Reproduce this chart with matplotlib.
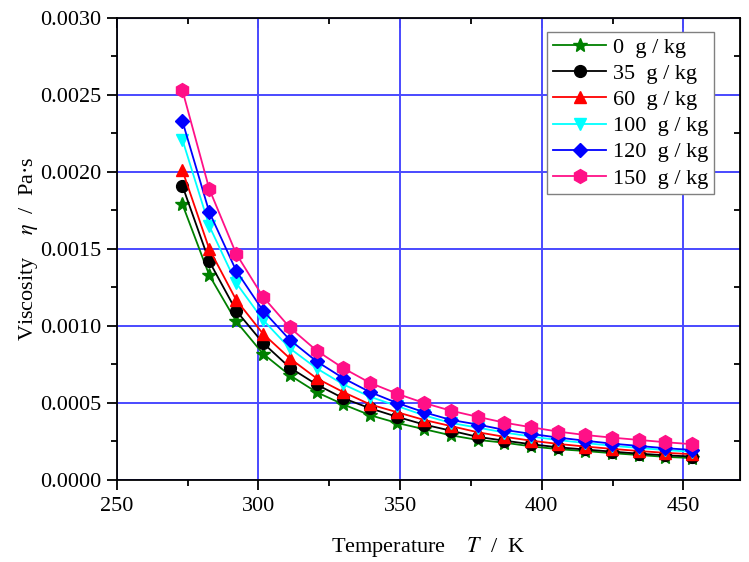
import numpy as np
import matplotlib
matplotlib.use("Agg")
import matplotlib.pyplot as plt
from matplotlib.ticker import MultipleLocator

plt.rcParams["font.family"] = ["Liberation Serif", "DejaVu Serif"]
plt.rcParams["mathtext.fontset"] = "stix"

# temperature points (K)
temps = [273.15, 282.62, 292.10, 301.57, 311.05, 320.52, 330.0, 339.47, 348.94, 358.42,
         367.89, 377.36, 386.84, 396.31, 405.78, 415.26, 424.73, 434.21, 443.68, 453.15]

labels = ["0  g / kg", "35  g / kg", "60  g / kg", "100  g / kg", "120  g / kg", "150  g / kg"]

visc_0 = [0.00179, 0.00133, 0.00103, 0.00082, 0.00068, 0.00057, 0.00049, 0.00042, 0.00037, 0.00033,
          0.00029, 0.00026, 0.000242, 0.000218, 0.000200, 0.000188, 0.000174, 0.000162, 0.000150, 0.000142]
visc_35 = [0.00191, 0.00142, 0.00110, 0.00089, 0.00073, 0.00062, 0.00053, 0.000465, 0.00041, 0.00036,
           0.00032, 0.00028, 0.000255, 0.000232, 0.000212, 0.000198, 0.000184, 0.000171, 0.000160, 0.000152]
visc_60 = [0.00201, 0.00150, 0.00117, 0.00095, 0.00079, 0.00066, 0.00057, 0.00049, 0.00044, 0.00039,
           0.00035, 0.00031, 0.000280, 0.000255, 0.000234, 0.000217, 0.000202, 0.000188, 0.000176, 0.000167]
visc_100 = [0.00221, 0.00165, 0.00128, 0.00104, 0.000855, 0.000725, 0.00062, 0.00054, 0.00048, 0.00042,
            0.00037, 0.00034, 0.000308, 0.000282, 0.000259, 0.000240, 0.000222, 0.000208, 0.000194, 0.000183]
visc_120 = [0.00233, 0.00174, 0.00136, 0.00110, 0.00091, 0.00077, 0.00066, 0.00057, 0.00050, 0.00044,
            0.00039, 0.00036, 0.000325, 0.000299, 0.000275, 0.000255, 0.000236, 0.000221, 0.000206, 0.000195]
visc_150 = [0.00253, 0.00189, 0.00147, 0.00119, 0.00099, 0.00084, 0.000725, 0.00063, 0.00056, 0.00050,
            0.00045, 0.00041, 0.000372, 0.000342, 0.000314, 0.000292, 0.000275, 0.000260, 0.000245, 0.000232]

series = [visc_0, visc_35, visc_60, visc_100, visc_120, visc_150]
colors = ["#008000", "#000000", "#ff0000", "#00ffff", "#0000ff", "#ff1087"]
markers = ["*", "o", "^", "v", "D", "h"]
msizes = [10, 8.5, 9, 9, 7.5, 10]

fig = plt.figure(figsize=(7.49, 5.62), dpi=100)
ax = fig.add_axes([0.156, 0.146, 0.832, 0.822])

for y, c, m, ms, lab in zip(series, colors, markers, msizes, labels):
    ax.plot(temps, y, color=c, marker=m, markersize=ms, lw=1.3, label=lab)

ax.set_xlim(250, 470)
ax.set_ylim(0, 0.003)
ax.xaxis.set_major_locator(MultipleLocator(50))
ax.xaxis.set_minor_locator(MultipleLocator(25))
ax.yaxis.set_major_locator(MultipleLocator(0.0005))
ax.yaxis.set_minor_locator(MultipleLocator(0.00025))
ax.yaxis.set_major_formatter(plt.FormatStrFormatter("%.4f"))

ax.grid(True, which="major", color="#4a4aff", lw=1.4)
ax.set_axisbelow(True)

ax.tick_params(which="major", direction="out", length=7, width=1.3, labelsize=16)
ax.tick_params(axis="x", which="major", pad=5)
ax.tick_params(axis="y", which="major", pad=4)
ax.tick_params(which="minor", direction="out", length=4, width=1.3)
for s in ax.spines.values():
    s.set_linewidth(1.3)

# mirrored ticks pointing inward on top and right
top = ax.secondary_xaxis("top")
top.xaxis.set_major_locator(MultipleLocator(50))
top.xaxis.set_minor_locator(MultipleLocator(25))
top.tick_params(which="major", direction="in", length=7, width=1.3, labeltop=False)
top.tick_params(which="minor", direction="in", length=4, width=1.3)
right = ax.secondary_yaxis("right")
right.yaxis.set_major_locator(MultipleLocator(0.0005))
right.yaxis.set_minor_locator(MultipleLocator(0.00025))
right.tick_params(which="major", direction="in", length=7, width=1.3, labelright=False)
right.tick_params(which="minor", direction="in", length=4, width=1.3)

ax.set_xlabel("Temperature    $T$  /  K", fontsize=16, labelpad=14)
ax.set_ylabel("Viscosity    $\\eta$  /  Pa·s", fontsize=16, labelpad=0)

leg = ax.legend(loc="upper right", bbox_to_anchor=(0.958, 0.97), fontsize=16,
                handlelength=2.4, labelspacing=0.25, borderpad=0.25, borderaxespad=0,
                handletextpad=0.3, fancybox=False, framealpha=1)
leg.get_frame().set_edgecolor("#808080")
leg.get_frame().set_linewidth(1.0)

fig.savefig("out.png", dpi=100)
